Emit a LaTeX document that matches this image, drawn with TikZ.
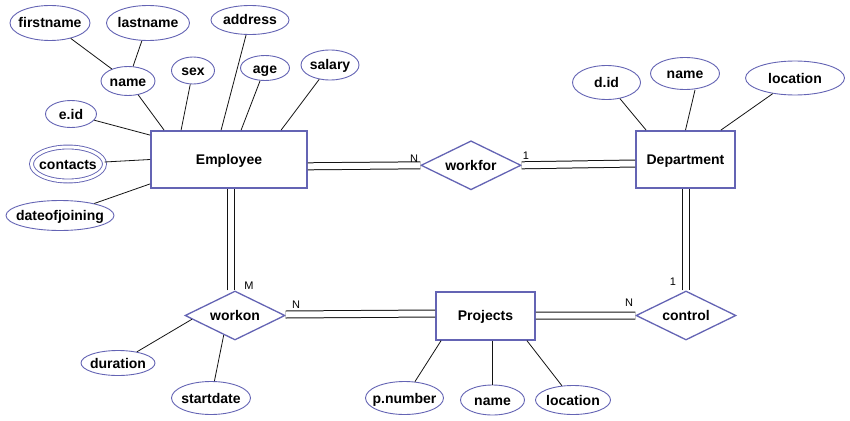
\documentclass[tikz,border=0pt]{standalone}
\usepackage{fontspec}
\setmainfont{Liberation Sans}
\usetikzlibrary{shapes.geometric,calc}
\definecolor{erLine}{RGB}{100,100,180}
\definecolor{erInk}{RGB}{20,20,20}
\newcommand{\erfont}{\fontsize{14}{16}\selectfont\bfseries}
\newcommand{\cardfont}{\fontsize{11}{13}\selectfont}
\newcommand{\ertext}[1]{\makebox[0pt]{#1}}
\tikzset{
  erbase/.style={font=\erfont, inner sep=0pt, text height=10pt, text depth=0pt},
  attr/.style 2 args={erbase, ellipse, draw=erLine, line width=0.9pt,
    minimum width=#1, minimum height=#2},
  multiattr/.style 2 args={attr={#1}{#2}, double, double distance=3pt},
  entity/.style 2 args={erbase, rectangle, draw=erLine, line width=1.8pt,
    minimum width=#1, minimum height=#2},
  relation/.style={erbase, diamond, aspect=2, draw=erLine, line width=1.3pt,
    minimum width=100pt, minimum height=49pt},
  link/.style={draw=erInk, line width=0.8pt},
  total/.style={draw=erInk, line width=1pt, double, double distance=6pt},
  card/.style={inner sep=0pt, font=\cardfont}
}
\begin{document}
\begin{tikzpicture}[x=1pt,y=-1pt]
  \fill[white] (0,0) rectangle (850,420);
  \useasboundingbox (0,0) rectangle (850,420);
  % entities and relationships
  \node[entity={156pt}{57pt}] (emp) at (229,159.5) {Employee};
  \node[entity={99pt}{57pt}] (dept) at (685.5,159.5) {Department};
  \node[entity={99pt}{48pt}] (proj) at (485.5,315.7) {Projects};
  \node[relation] (workfor) at (471,165.3) {workfor};
  \node[relation] (workon) at (235,315.5) {workon};
  \node[relation] (control) at (686,315.5) {control};
  % employee attributes
  \node[attr={80pt}{35pt}] (fname) at (50,23) {\ertext{firstname}};
  \node[attr={83pt}{35pt}] (lname) at (148,23) {\ertext{lastname}};
  \node[attr={78pt}{29pt}] (addr) at (250,20) {\ertext{address}};
  \node[attr={54pt}{29pt}] (ename) at (128,81) {\ertext{name}};
  \node[attr={43pt}{27pt}] (sex) at (193,70.5) {\ertext{sex}};
  \node[attr={49pt}{25pt}] (age) at (265,68) {\ertext{age}};
  \node[attr={58pt}{30pt}] (salary) at (330,65) {\ertext{salary}};
  \node[attr={51pt}{27pt}] (eid) at (71,114) {\ertext{e.id}};
  \node[multiattr={73pt}{34pt}] (contacts) at (68,164) {\ertext{contacts}};
  \node[attr={108pt}{30pt}] (doj) at (60,215.5) {\ertext{dateofjoining}};
  % department attributes
  \node[attr={68pt}{34pt}] (did) at (606.5,82.5) {\ertext{d.id}};
  \node[attr={69pt}{32pt}] (dname) at (685,73.5) {\ertext{name}};
  \node[attr={99pt}{34pt}] (dloc) at (795,78) {\ertext{location}};
  % project and workon attributes
  \node[attr={78pt}{33pt}] (pnum) at (404.5,398) {\ertext{p.number}};
  \node[attr={64pt}{30pt}] (pname) at (492.5,400) {\ertext{name}};
  \node[attr={75pt}{29pt}] (ploc) at (573,400) {\ertext{location}};
  \node[attr={74pt}{25pt}] (dur) at (118,363) {\ertext{duration}};
  \node[attr={79pt}{33pt}] (start) at (211,398) {\ertext{startdate}};

  \draw[link] (fname) -- (ename);
  \draw[link] (lname) -- (ename);
  \draw[link] (ename) -- ([xshift=14pt]emp.north west);
  \draw[link] (sex) -- ([xshift=31pt]emp.north west);
  \draw[link] (addr) -- ([xshift=71pt]emp.north west);
  \draw[link] (age) -- ([xshift=91pt]emp.north west);
  \draw[link] (salary) -- ([xshift=131pt]emp.north west);
  \draw[link] (eid) -- ([yshift=-5pt]emp.north west);
  \draw[link] (contacts) -- (emp.west);
  \draw[link] (doj) -- ([yshift=5pt]emp.south west);
  \draw[link] (did) -- ([xshift=11pt]dept.north west);
  \draw[link] ([xshift=10pt]dname.south) -- (dept.north);
  \draw[link] (dloc) -- ([xshift=-15pt]dept.north east);
  \draw[link] (pnum) -- ([xshift=6pt]proj.south west);
  \draw[link] (pname) -- (pname |- proj.south);
  \draw[link] (ploc) -- ([xshift=-9pt]proj.south east);
  \draw[link] (dur) -- (workon.185);
  \draw[link] (start) -- (workon.240);

  % total participation
  \draw[total] (workfor.west) -- ([yshift=-1pt]workfor.west -| emp.east);
  \draw[total] (workfor.east) -- ([yshift=-4pt]dept.west);
  \draw[total] ([xshift=-4pt]workon.north) -- ([xshift=-4pt]workon.north |- emp.south);
  \draw[total] ([yshift=1pt]workon.east) -- ([yshift=2pt]workon.east -| proj.west);
  \draw[total] (control.north) -- (control.north |- dept.south);
  \draw[total] (proj.east) -- (control.west);

  % cardinalities
  \node[card] (cWfE) at (414,159) {N};
  \node[card] (cWfD) at (526,156) {1};
  \node[card] (cWoE) at (249,286) {M};
  \node[card] (cWoP) at (296,305) {N};
  \node[card] (cCtP) at (629,303) {N};
  \node[card] (cCtD) at (673,282) {1};
\end{tikzpicture}
\end{document}
